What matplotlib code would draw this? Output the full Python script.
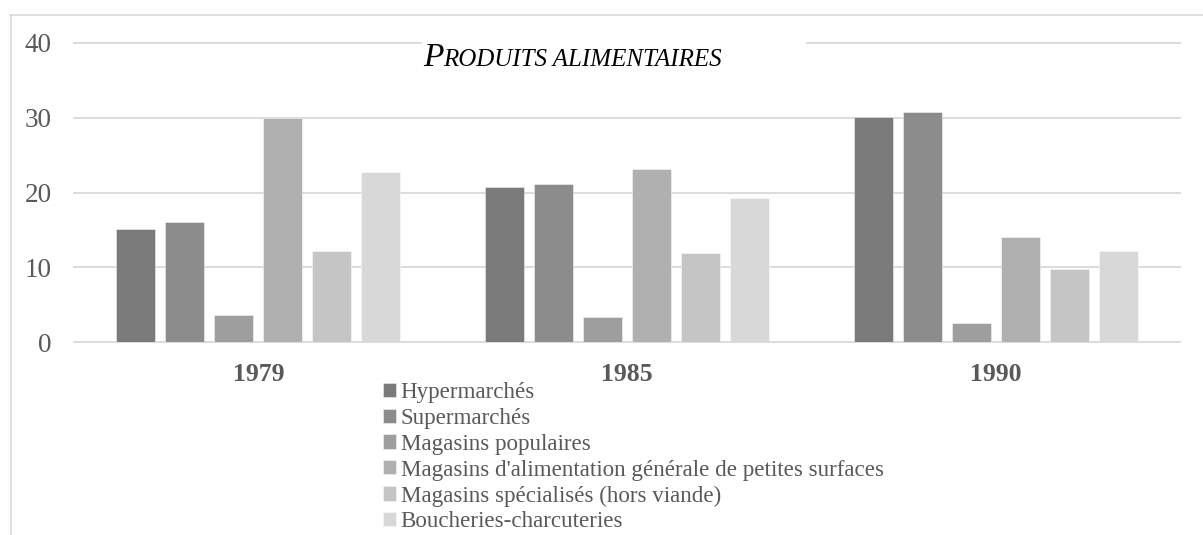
import matplotlib
matplotlib.use("Agg")
import matplotlib.pyplot as plt
from matplotlib.lines import Line2D
from matplotlib.patches import Rectangle
import numpy as np

years = ["1979", "1985", "1990"]
series = [
    "Hypermarchés",
    "Supermarchés",
    "Magasins populaires",
    "Magasins d'alimentation générale de petites surfaces",
    "Magasins spécialisés (hors viande)",
    "Boucheries-charcuteries",
]
hyper = [15.1, 20.8, 30.1]
super_ = [16.0, 21.1, 30.8]
populaires = [3.6, 3.4, 2.6]
petites = [30.0, 23.1, 14.1]
specialises = [12.2, 11.9, 9.8]
boucheries = [22.8, 19.3, 12.2]
values = [hyper, super_, populaires, petites, specialises, boucheries]
colors = ["#7a7a7a", "#8c8c8c", "#9e9e9e", "#b0b0b0", "#c5c5c5", "#d8d8d8"]
yticks = [0, 10, 20, 30, 40]

W, H = 1203, 535
SERIF = "Liberation Serif"
GREY = "#595959"
GRID = "#d9d9d9"
plt.rcParams["font.family"] = [SERIF, "DejaVu Serif"]

fig = plt.figure(figsize=(W / 100, H / 100), dpi=100)
ax = fig.add_axes([74 / W, (H - 342) / H, (1180 - 74) / W, (342 - 43) / H])

x = np.arange(len(years))
step = 49 / 368.7
width = 39 / 368.7
handles = []
for i, (name, vals, c) in enumerate(zip(series, values, colors)):
    b = ax.bar(x + (i - 2.5) * step, vals, width, color=c,
               edgecolor=(1, 1, 1, 0.45), linewidth=0.7, label=name, zorder=3)
    handles.append(b)

for t in yticks:
    ax.axhline(t, color=GRID, lw=1.3, zorder=1, clip_on=False)

ax.set_xlim(-0.5, 2.5)
ax.set_ylim(0, 40)
ax.set_yticks(yticks)
ax.set_yticklabels([str(t) for t in yticks], fontsize=19.5, color=GREY)
ax.set_xticks(x)
ax.set_xticklabels(years, fontsize=18.5, color=GREY, fontweight="bold")
ax.tick_params(axis="y", length=0, pad=16)
ax.tick_params(axis="x", length=0, pad=15)
for s in ax.spines.values():
    s.set_visible(False)

# chart border (cut off at right/bottom)
fig.add_artist(Line2D([10.5 / W, 10.5 / W], [0, (H - 15) / H], color=GRID, lw=1.2))
fig.add_artist(Line2D([10 / W, 1], [(H - 15) / H, (H - 15) / H], color=GRID, lw=1.2))

# title box breaking the top gridline
fig.add_artist(Rectangle((422 / W, (H - 50) / H), (806 - 422) / W, 14 / H,
                         facecolor="white", edgecolor="none", zorder=2))

# title in italic small caps
fig.canvas.draw()
r = fig.canvas.get_renderer()
xpos = 423
base = (H - 66.5) / H
for txt, sz in [("P", 24), ("RODUITS ALIMENTAIRES", 18)]:
    t = fig.text(xpos / W, base, txt, fontsize=sz, style="italic",
                 color="black", va="baseline", ha="left", zorder=5)
    xpos += t.get_window_extent(r).width

fig.legend(handles=handles, labels=series, loc="upper left",
           bbox_to_anchor=(383 / W, (H - 382) / H), frameon=False,
           prop={"size": 16.6}, labelcolor=GREY,
           handlelength=0.57, handleheight=0.57, handletextpad=0.2,
           labelspacing=0.21, borderpad=0, borderaxespad=0)

fig.savefig("out.png", dpi=100)
